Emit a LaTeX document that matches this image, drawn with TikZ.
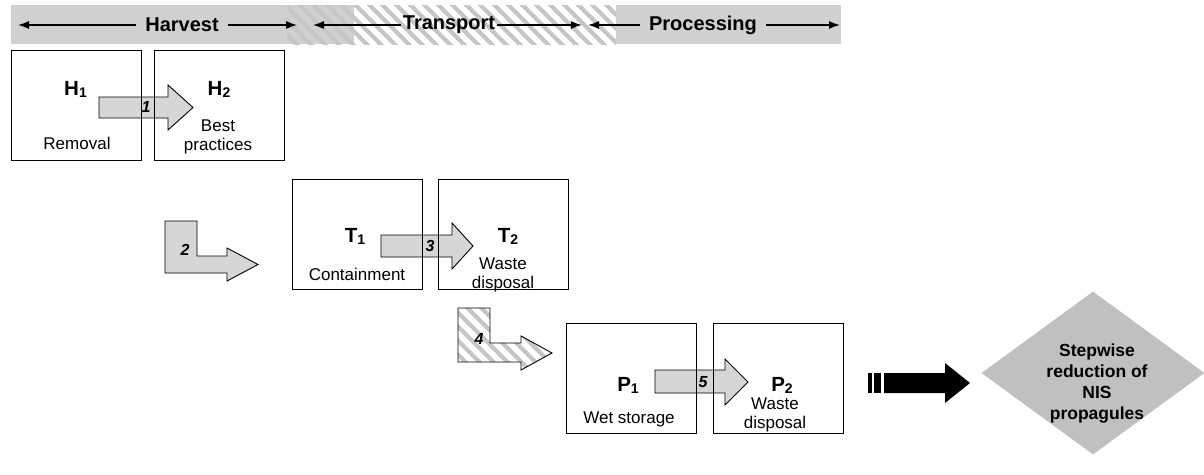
\documentclass[tikz,border=0pt]{standalone}
\usepackage{fontspec}
\setmainfont{Liberation Sans}
\usepackage{xcolor}
\usetikzlibrary{arrows.meta,patterns.meta,shapes.geometric}

\definecolor{bargray}{HTML}{D0D0D0}
\definecolor{stripe}{HTML}{C6C6C6}
\definecolor{arrowgray}{HTML}{D6D6D6}
\definecolor{goalgray}{HTML}{C0C0C0}

\newcommand{\stagelab}[2]{#1\raisebox{-2pt}{\fontsize{14}{14}\selectfont #2}}

\begin{document}
\begin{tikzpicture}[x=1pt,y=-1pt,
	stage/.style={draw,line width=1pt,minimum width=130pt,minimum height=110pt,inner sep=0pt},
	phase/.style={font=\fontsize{20}{22}\selectfont\bfseries,inner ysep=0pt,inner xsep=9pt},
	tag/.style={font=\fontsize{20.5}{22}\selectfont\bfseries,anchor=base,inner sep=0pt},
	note/.style={font=\fontsize{17}{19}\selectfont,align=center,inner sep=0pt},
	num/.style={font=\fontsize{16}{18}\selectfont\bfseries\itshape,inner sep=0pt},
	blk/.style={draw,line width=0.9pt,fill=arrowgray},
	hatch/.style={pattern={Lines[angle=-45,distance=10.5pt,line width=4.5pt]},pattern color=stripe},
	span/.style={line width=1.3pt,-{Latex[length=11pt,width=8pt]}}]
				\useasboundingbox (0,0) rectangle (1204,474);

				% phase bar
				\fill [bargray] (11,5) rectangle (354,44);
				\fill [hatch] (287,5) rectangle (616,44);
				\fill [bargray] (616,5) rectangle (841,44);

				\node [phase] (harvest) at (182,25) {Harvest};
				\node [phase,inner xsep=2pt] (transport) at (449,25) {Transport};
				\node [phase] (processing) at (703,25) {Processing};
				\coordinate (ha) at (18,25);
				\coordinate (hb) at (297,25);
				\coordinate (ta) at (313,25);
				\coordinate (tb) at (582,25);
				\coordinate (pa) at (588,25);
				\coordinate (pb) at (840,25);
				\draw [span] (harvest) -- (ha);
				\draw [span] (harvest) -- (hb);
				\draw [span] (transport) -- (ta);
				\draw [span] (transport) -- (tb);
				\draw [span] (processing) -- (pa);
				\draw [span] (processing) -- (pb);

				% block arrows
				\filldraw [blk] (99,97) -- (168,97) -- (168,85) -- (193,107.5) -- (168,130) -- (168,118) -- (99,118) -- cycle;
				\filldraw [blk] (165,221) -- (197,221) -- (197,256) -- (227,256) -- (227,248) -- (258,264.5) -- (227,281) -- (227,273) -- (165,273) -- cycle;
				\filldraw [blk] (381,235) -- (452,235) -- (452,223) -- (473,246) -- (452,269) -- (452,257) -- (381,257) -- cycle;
				\fill [hatch] (458,308) -- (490,308) -- (490,343) -- (521,343) -- (521,336) -- (552,353) -- (521,370) -- (521,362) -- (458,362) -- cycle;
				\draw [line width=0.9pt] (458,308) -- (490,308) -- (490,343) -- (521,343) -- (521,336) -- (552,353) -- (521,370) -- (521,362) -- (458,362) -- cycle;
				\filldraw [blk] (655,370) -- (725,370) -- (725,359) -- (748,382) -- (725,405) -- (725,393) -- (655,393) -- cycle;

				% stages
				\node [stage] (h1) at (76,105) {};
				\node [stage] (h2) at (219.5,105) {};
				\node [stage] (t1) at (357.5,234.5) {};
				\node [stage] (t2) at (503,234.5) {};
				\node [stage] (p1) at (631.5,378.5) {};
				\node [stage] (p2) at (778,378.5) {};

				\node [tag] (h1lab) at (75.5,95) {\stagelab{H}{1}};
				\node [tag] (h2lab) at (219,95) {\stagelab{H}{2}};
				\node [tag] (t1lab) at (355,242) {\stagelab{T}{1}};
				\node [tag] (t2lab) at (508,242) {\stagelab{T}{2}};
				\node [tag] (p1lab) at (628,391) {\stagelab{P}{1}};
				\node [tag] (p2lab) at (782,391) {\stagelab{P}{2}};

				\node [note] (removal) at (77,143) {Removal};
				\node [note] (best) at (218,137) {Best\\practices};
				\node [note] (contain) at (357,274) {Containment};
				\node [note] (twaste) at (503,275) {Waste\\disposal};
				\node [note] (wet) at (629,419) {Wet storage};
				\node [note] (pwaste) at (775,415) {Waste\\disposal};

				\node [num] (n1) at (146,107) {1};
				\node [num] (n2) at (185,250) {2};
				\node [num] (n3) at (430,246) {3};
				\node [num] (n4) at (479,339) {4};
				\node [num] (n5) at (703,382) {5};

				% result
				\fill (868,373) rectangle (872,393);
				\fill (874,373) rectangle (881,393);
				\fill (884,373) -- (945,373) -- (945,363) -- (970,383) -- (945,403) -- (945,393) -- (884,393) -- cycle;
				\node [diamond,fill=goalgray,minimum width=223pt,minimum height=163pt,inner sep=0pt] (goal) at (1093,373) {};
				\node [font=\fontsize{17.5}{21}\selectfont\bfseries,align=center] (goaltext) at (1097,384) {Stepwise\\reduction of\\NIS\\propagules};
			\end{tikzpicture}
\end{document}
